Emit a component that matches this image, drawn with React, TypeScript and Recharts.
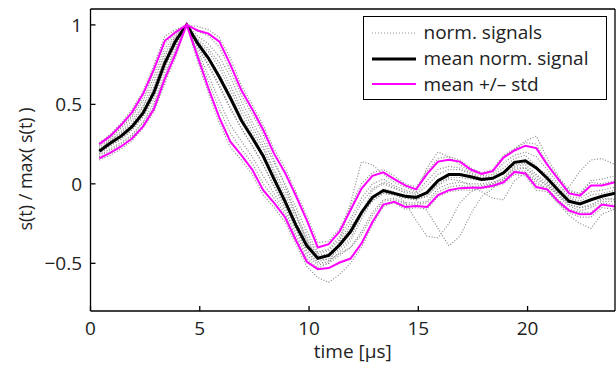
import React from "react";
import { LineChart, Line, XAxis, YAxis, Legend } from "recharts";

const FONT = "'Open Sans', sans-serif";
const W = 616;
const H = 365;
const MARGIN = { top: 8, right: 0, bottom: 0, left: 0 };
const Y_AXIS_W = 90.5;
const X_AXIS_H = 54;

// time [µs]
const times = [
  0.4, 0.9, 1.4, 1.9, 2.4, 2.9, 3.4, 3.9, 4.4, 4.9, 5.4, 5.9, 6.4, 6.9, 7.4, 7.9,
  8.4, 8.9, 9.4, 9.9, 10.4, 10.9, 11.4, 11.9, 12.4, 12.9, 13.4, 13.9, 14.4, 14.9,
  15.4, 15.9, 16.4, 16.9, 17.4, 17.9, 18.4, 18.9, 19.4, 19.9, 20.4, 20.9, 21.4,
  21.9, 22.4, 22.9, 23.4, 24.0,
];

const meanSignal = [
  0.205, 0.255, 0.3, 0.36, 0.445, 0.575, 0.76, 0.9, 1.0, 0.885, 0.79, 0.67, 0.54,
  0.4, 0.29, 0.175, 0.03, -0.11, -0.26, -0.39, -0.468, -0.45, -0.385, -0.3, -0.18,
  -0.085, -0.042, -0.06, -0.078, -0.085, -0.055, 0.02, 0.058, 0.058, 0.045, 0.028,
  0.035, 0.07, 0.135, 0.145, 0.1, 0.035, -0.04, -0.11, -0.126, -0.1, -0.078, -0.059,
];

const meanPlusStd = [
  0.25, 0.3, 0.37, 0.45, 0.565, 0.72, 0.9, 0.955, 1.0, 0.965, 0.945, 0.895, 0.75,
  0.59, 0.47, 0.34, 0.19, 0.07, -0.075, -0.23, -0.4, -0.38, -0.3, -0.165, -0.03,
  0.05, 0.072, 0.03, -0.01, -0.035, 0.063, 0.14, 0.152, 0.14, 0.09, 0.063, 0.08,
  0.165, 0.21, 0.24, 0.225, 0.12, 0.03, -0.06, -0.074, -0.01, -0.011, 0.01,
];

const meanMinusStd = [
  0.16, 0.195, 0.235, 0.285, 0.36, 0.47, 0.66, 0.82, 1.0, 0.8, 0.6, 0.415, 0.265,
  0.18, 0.09, -0.04, -0.12, -0.21, -0.355, -0.49, -0.537, -0.53, -0.495, -0.47,
  -0.375, -0.24, -0.13, -0.113, -0.145, -0.14, -0.145, -0.07, -0.04, -0.027, -0.025,
  -0.025, -0.012, 0.01, 0.075, 0.065, -0.02, -0.035, -0.11, -0.168, -0.192, -0.19,
  -0.13, -0.143,
];

// individual normalised signals
const normSignals = [
  [0.26, 0.31, 0.38, 0.47, 0.58, 0.75, 0.93, 0.97, 1.0, 0.99, 0.97, 0.92, 0.79, 0.62, 0.5, 0.37, 0.22, 0.1, -0.05, -0.2, -0.37, -0.36, -0.28, -0.14, 0.0, 0.07, 0.09, 0.05, 0.0, -0.02, 0.08, 0.16, 0.17, 0.15, 0.1, 0.07, 0.09, 0.18, 0.22, 0.26, 0.25, 0.13, 0.04, -0.05, -0.06, 0.01, 0.0, 0.02],
  [0.15, 0.18, 0.22, 0.27, 0.35, 0.45, 0.63, 0.8, 1.0, 0.77, 0.57, 0.38, 0.23, 0.15, 0.06, -0.07, -0.15, -0.24, -0.38, -0.52, -0.59, -0.62, -0.57, -0.5, -0.4, -0.26, -0.14, -0.12, -0.16, -0.15, -0.16, -0.08, -0.05, -0.04, -0.04, -0.03, -0.02, 0.0, 0.06, 0.05, -0.04, -0.05, -0.12, -0.18, -0.21, -0.21, -0.15, -0.16],
  [0.23, 0.28, 0.35, 0.42, 0.52, 0.67, 0.85, 0.94, 1.0, 0.93, 0.88, 0.8, 0.67, 0.52, 0.39, 0.27, 0.13, 0.0, -0.15, -0.3, -0.43, -0.41, -0.33, -0.22, -0.09, 0.0, 0.03, -0.01, -0.04, -0.06, 0.02, 0.09, 0.11, 0.1, 0.07, 0.05, 0.06, 0.13, 0.18, 0.2, 0.17, 0.09, 0.0, -0.08, -0.09, -0.05, -0.04, -0.02],
  [0.18, 0.22, 0.26, 0.31, 0.39, 0.51, 0.7, 0.85, 1.0, 0.84, 0.68, 0.52, 0.37, 0.27, 0.17, 0.05, -0.06, -0.17, -0.32, -0.45, -0.51, -0.5, -0.45, -0.4, -0.3, -0.18, -0.1, -0.09, -0.12, -0.12, -0.11, -0.03, 0.0, 0.01, 0.0, 0.0, 0.01, 0.03, 0.1, 0.1, 0.03, -0.01, -0.08, -0.14, -0.17, -0.15, -0.11, -0.11],
  [0.21, 0.27, 0.32, 0.38, 0.48, 0.61, 0.8, 0.92, 1.0, 0.9, 0.83, 0.73, 0.59, 0.45, 0.33, 0.22, 0.07, -0.07, -0.21, -0.35, -0.45, -0.44, -0.37, -0.27, -0.18, -0.11, -0.06, -0.07, -0.09, -0.1, -0.07, 0.0, 0.04, 0.04, 0.03, 0.02, 0.03, 0.06, 0.12, 0.13, 0.1, 0.06, -0.02, -0.09, -0.11, -0.07, -0.06, -0.04],
  [0.19, 0.24, 0.28, 0.34, 0.42, 0.55, 0.73, 0.88, 1.0, 0.86, 0.74, 0.61, 0.47, 0.35, 0.24, 0.12, -0.01, -0.14, -0.28, -0.42, -0.49, -0.47, -0.41, -0.34, -0.19, -0.04, 0.0, -0.03, -0.05, -0.07, -0.01, 0.06, 0.09, 0.09, 0.06, 0.04, 0.05, 0.1, 0.16, 0.18, 0.11, 0.01, -0.06, -0.13, -0.15, -0.13, -0.1, -0.09],
  [0.24, 0.29, 0.36, 0.43, 0.54, 0.7, 0.88, 0.95, 1.0, 0.96, 0.93, 0.86, 0.71, 0.56, 0.44, 0.31, 0.15, -0.01, -0.19, -0.36, -0.47, -0.48, -0.44, -0.4, -0.32, -0.2, -0.11, -0.1, -0.13, -0.13, -0.12, -0.05, -0.02, -0.01, -0.02, -0.01, 0.0, 0.02, 0.08, 0.08, 0.0, -0.03, -0.1, -0.16, -0.18, -0.18, -0.12, -0.13],
  [0.19, 0.24, 0.28, 0.34, 0.42, 0.54, 0.74, 0.87, 1.0, 0.87, 0.75, 0.62, 0.48, 0.35, 0.24, 0.12, -0.02, -0.15, -0.29, -0.43, -0.5, -0.49, -0.43, -0.36, -0.22, -0.1, -0.03, -0.05, -0.12, -0.23, -0.33, -0.34, -0.25, -0.12, -0.05, -0.02, 0.0, 0.04, 0.11, 0.12, 0.06, 0.0, -0.07, -0.13, -0.15, -0.14, -0.09, -0.1],
  [0.22, 0.27, 0.33, 0.4, 0.49, 0.64, 0.82, 0.93, 1.0, 0.91, 0.85, 0.76, 0.62, 0.48, 0.36, 0.24, 0.09, -0.04, -0.19, -0.33, -0.44, -0.42, -0.35, -0.25, -0.12, -0.03, 0.01, -0.02, -0.06, -0.1, -0.17, -0.28, -0.39, -0.33, -0.19, -0.08, -0.03, 0.03, 0.09, 0.1, 0.05, -0.02, -0.06, -0.02, 0.08, 0.15, 0.16, 0.12],
  [0.17, 0.21, 0.25, 0.3, 0.38, 0.49, 0.68, 0.84, 1.0, 0.82, 0.64, 0.47, 0.32, 0.22, 0.13, 0.0, -0.09, -0.19, -0.34, -0.47, -0.53, -0.5, -0.36, -0.12, 0.14, 0.12, 0.06, 0.01, -0.02, -0.05, 0.1, 0.2, 0.17, 0.12, 0.08, 0.06, 0.08, 0.17, 0.22, 0.27, 0.3, 0.16, 0.05, -0.04, -0.06, 0.02, 0.03, 0.05],
  [0.21, 0.26, 0.31, 0.37, 0.46, 0.59, 0.78, 0.91, 1.0, 0.89, 0.8, 0.69, 0.56, 0.42, 0.31, 0.19, 0.05, -0.09, -0.24, -0.37, -0.46, -0.45, -0.39, -0.31, -0.2, -0.1, -0.06, -0.07, -0.09, -0.1, -0.08, -0.01, 0.03, 0.02, -0.01, -0.05, -0.09, -0.1, 0.02, 0.07, 0.02, -0.04, -0.12, -0.2, -0.25, -0.28, -0.19, -0.16],
];

const xTicks = [0, 5, 10, 15, 20];
const yTicks = [-0.5, 0, 0.5, 1];
const legendLabels = ["norm. signals", "mean norm. signal", "mean +/\u2013 std"];

const GRAY = "#8a8a8a";
const MAGENTA = "#ff00ff";
const TEXT = "#222";

const toPoints = (vals: number[]) => times.map((t, i) => ({ t, v: vals[i] }));

const plotLeft = MARGIN.left + Y_AXIS_W;
const plotRight = W - MARGIN.right - 1;
const plotTop = MARGIN.top + 1;
const plotBottom = H - MARGIN.bottom - X_AXIS_H;

const axisStroke = { stroke: "#000", strokeWidth: 1.3 };
const tickText = { fill: TEXT, fontSize: 19, fontFamily: FONT };

const fmtY = (v: number) => (v < 0 ? `\u2212${Math.abs(v)}` : `${v}`);

const XLabel = () => (
  <text
    x={(plotLeft + plotRight) / 2}
    y={H - 7.5}
    textAnchor="middle"
    fontSize={19}
    fontFamily={FONT}
    fill={TEXT}
  >
    time [μs]
  </text>
);

const YLabel = () => {
  const x = 32;
  const y = (plotTop + plotBottom) / 2 + 9;
  return (
    <text
      x={x}
      y={y}
      transform={`rotate(-90 ${x} ${y})`}
      textAnchor="middle"
      fontSize={18}
      fontFamily={FONT}
      fill={TEXT}
    >
      s(t) / max( s(t) )
    </text>
  );
};

const sampleStyles = [
  { stroke: GRAY, strokeWidth: 1.2, strokeDasharray: "1 2" },
  { stroke: "#000", strokeWidth: 3 },
  { stroke: MAGENTA, strokeWidth: 2 },
];

const LegendBox = () => (
  <div
    style={{
      width: 244,
      height: 84,
      boxSizing: "border-box",
      border: "1.5px solid #000",
      background: "#fff",
      paddingTop: 3,
      fontFamily: FONT,
      fontSize: 19,
      color: TEXT,
    }}
  >
    {legendLabels.map((label, i) => (
      <div key={label} style={{ display: "flex", alignItems: "center", height: 25.8 }}>
        <svg width={44} height={10} style={{ marginLeft: 8.5, marginRight: 7.3 }}>
          <line x1={0} y1={5} x2={44} y2={5} {...sampleStyles[i]} />
        </svg>
        <span style={{ lineHeight: "25.8px", whiteSpace: "nowrap" }}>{label}</span>
      </div>
    ))}
  </div>
);

export default function App() {
  return (
    <div style={{ width: W, height: H, background: "#fff" }}>
      <style>{"body{margin:0;background:#fff}"}</style>
      <LineChart width={W} height={H} margin={MARGIN}>
        <XAxis
          xAxisId="b"
          type="number"
          dataKey="t"
          domain={[0, 24]}
          ticks={xTicks}
          interval={0}
          allowDataOverflow
          height={X_AXIS_H}
          tickSize={-5}
          tickMargin={15.5}
          axisLine={axisStroke}
          tickLine={axisStroke}
          tick={tickText}
          label={XLabel}
        />
        <XAxis
          xAxisId="top"
          orientation="top"
          type="number"
          dataKey="t"
          domain={[0, 24]}
          ticks={xTicks}
          interval={0}
          allowDataOverflow
          height={1}
          tickSize={-5}
          tick={false}
          axisLine={axisStroke}
          tickLine={axisStroke}
        />
        <YAxis
          yAxisId="l"
          type="number"
          domain={[-0.8, 1.1]}
          ticks={yTicks}
          interval={0}
          allowDataOverflow
          width={Y_AXIS_W}
          tickSize={-5}
          tickMargin={13.5}
          tickFormatter={fmtY}
          axisLine={axisStroke}
          tickLine={axisStroke}
          tick={tickText}
          label={YLabel}
        />
        <YAxis
          yAxisId="r"
          orientation="right"
          type="number"
          domain={[-0.8, 1.1]}
          ticks={yTicks}
          interval={0}
          allowDataOverflow
          width={1}
          tickSize={-5}
          tick={false}
          axisLine={axisStroke}
          tickLine={axisStroke}
        />
        <Legend
          layout="horizontal"
          verticalAlign="middle"
          align="center"
          wrapperStyle={{ top: 16, left: 362.7, width: 244, height: 84 }}
          content={LegendBox}
        />
        {/* carries the top/right box axes; not drawn */}
        <Line
          xAxisId="top"
          yAxisId="r"
          data={toPoints(meanSignal)}
          dataKey="v"
          stroke="none"
          dot={false}
          activeDot={false}
          legendType="none"
          isAnimationActive={false}
        />
        {normSignals.map((s, k) => (
          <Line
            key={`sig${k}`}
            xAxisId="b"
            yAxisId="l"
            data={toPoints(s)}
            dataKey="v"
            type="linear"
            stroke={GRAY}
            strokeWidth={1.2}
            strokeDasharray="1 1.8"
            dot={false}
            activeDot={false}
            legendType="none"
            isAnimationActive={false}
          />
        ))}
        <Line
          xAxisId="b"
          yAxisId="l"
          data={toPoints(meanSignal)}
          dataKey="v"
          type="linear"
          stroke="#000"
          strokeWidth={3}
          dot={false}
          activeDot={false}
          isAnimationActive={false}
        />
        <Line
          xAxisId="b"
          yAxisId="l"
          data={toPoints(meanPlusStd)}
          dataKey="v"
          type="linear"
          stroke={MAGENTA}
          strokeWidth={2}
          dot={false}
          activeDot={false}
          isAnimationActive={false}
        />
        <Line
          xAxisId="b"
          yAxisId="l"
          data={toPoints(meanMinusStd)}
          dataKey="v"
          type="linear"
          stroke={MAGENTA}
          strokeWidth={2}
          dot={false}
          activeDot={false}
          isAnimationActive={false}
        />
      </LineChart>
    </div>
  );
}
